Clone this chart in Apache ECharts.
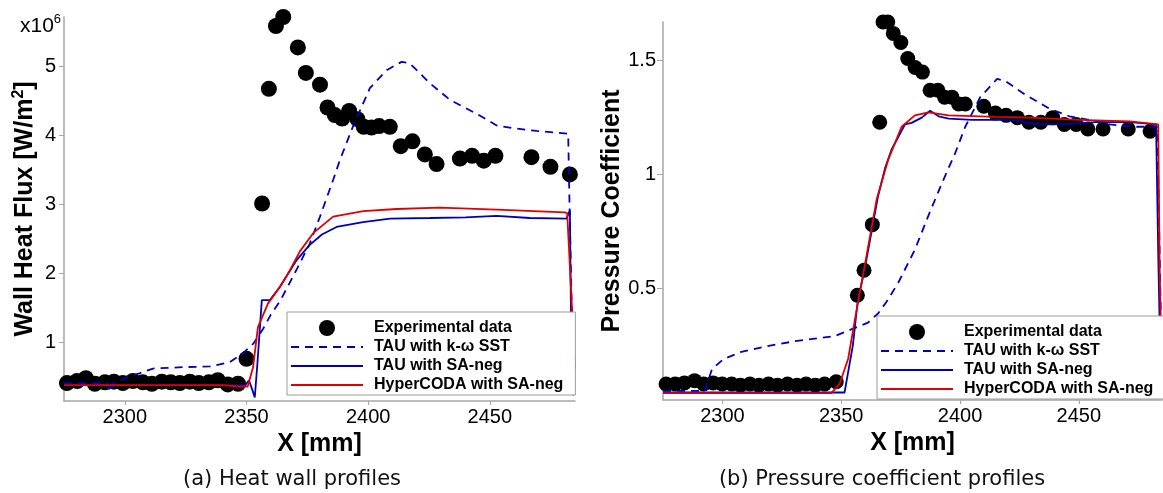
<!DOCTYPE html>
<html>
<head>
<meta charset="utf-8">
<script src="https://cdn.jsdelivr.net/npm/echarts@6/dist/echarts.min.js"></script>
<style>
html,body{margin:0;padding:0;background:#fff;}
#c{width:1163px;height:493px;}
</style>
</head>
<body>
<div id="c"></div>
<script>
// ---------- Data (a): wall heat flux, units of 1e6 W/m^2 ----------
const heatExpX = [2276.2,2280.4,2284.0,2287.7,2291.8,2295.5,2299.2,2303.3,2307.4,2311.1,2315.2,2318.9,2322.6,2326.7,2330.4,2334.5,2338.2,2342.3,2346.5,
  2350.0,2356.4,2359.2,2362.1,2365.1,2371.1,2374.4,2380.2,2383.3,2386.3,2389.3,2392.2,2395.6,2398.2,2401.4,2404.5,2408.9,
  2413.4,2418.2,2423.3,2428.1,2437.7,2442.7,2447.5,2452.3,2467.1,2474.9,2482.9];
const heatExpY = [0.41,0.44,0.48,0.40,0.42,0.43,0.41,0.44,0.42,0.40,0.43,0.42,0.41,0.43,0.41,0.42,0.45,0.39,0.40,
  0.76,3.01,4.67,5.58,5.71,5.27,4.90,4.73,4.40,4.29,4.24,4.35,4.23,4.12,4.11,4.13,4.12,
  3.84,3.91,3.72,3.58,3.66,3.70,3.63,3.70,3.68,3.54,3.43];
const heatSstX = [2275,2292.7,2294,2295.5,2303,2306,2311.6,2324,2335,2343,2348.5,2352.8,2356.9,2360,2364,2371,2376,2380.2,2385.6,2388.4,2393.7,2400.7,2407.6,2413.7,2417.1,2425.4,2433.6,2444.5,2452.8,2459.4,2469.2,2482.2,2482.8,2484.2];
const heatSstY = [0.41,0.41,0.28,0.42,0.52,0.55,0.62,0.64,0.65,0.71,0.84,0.98,1.20,1.40,1.61,2.08,2.43,2.82,3.35,3.64,4.12,4.68,4.94,5.06,5.04,4.75,4.51,4.31,4.14,4.10,4.06,4.02,2.90,0.60];
const heatSaX = [2275,2349.5,2351,2352.5,2353.4,2354.5,2356.3,2359.6,2363.7,2370.6,2376,2381,2387,2397.9,2409,2425.4,2440,2452.8,2466.4,2481.5,2482.9,2483.6,2484.5];
const heatSaY = [0.38,0.38,0.45,0.30,0.20,0.70,1.61,1.61,1.80,2.19,2.41,2.56,2.67,2.74,2.79,2.80,2.81,2.83,2.80,2.79,2.91,0.50,0.23];
const heatHcX = [2275,2340,2347,2350.5,2352.7,2354.7,2358.8,2363.7,2367.8,2372,2377.4,2385.6,2398,2411.7,2429.5,2452.8,2480.8,2481.8,2485];
const heatHcY = [0.38,0.38,0.36,0.36,0.64,1.22,1.56,1.80,2.04,2.32,2.58,2.82,2.90,2.93,2.95,2.92,2.88,2.87,0.62];

// ---------- Data (b): pressure coefficient ----------
const cpExpX = [2276.3,2280.1,2284.0,2288.3,2292.1,2296.1,2299.9,2303.9,2307.6,2311.6,2315.4,2319.4,2323.2,2327.4,2331.4,2335.2,2339.1,2343.0,2347.9,
  2356.8,2359.6,2363.1,2366.2,2367.6,2369.6,2371.9,2375.1,2378.0,2381.1,2384.2,2387.4,2390.7,2393.5,2396.6,2399.4,2402.2,2410.0,2414.9,2419.4,2424.1,2429.0,2434.0,2439.0,2443.9,2448.9,2453.8,2460.2,2470.8,2480.0];
const cpExpY = [0.08,0.08,0.085,0.095,0.08,0.085,0.08,0.08,0.075,0.08,0.075,0.08,0.075,0.08,0.075,0.08,0.075,0.08,0.09,
  0.47,0.58,0.78,1.23,1.67,1.67,1.62,1.58,1.51,1.47,1.45,1.37,1.37,1.34,1.34,1.31,1.31,1.30,1.27,1.26,1.25,1.23,1.23,1.25,1.22,1.22,1.20,1.20,1.20,1.19];
const cpSstX = [2275,2292.6,2295.6,2300.5,2307.6,2319,2331.6,2347.1,2354.2,2361.3,2365.5,2369,2374,2381,2386.7,2392.3,2398,2402.2,2408.5,2415.6,2419.2,2427.6,2437.5,2446,2454.5,2462.9,2474.2,2483,2485];
const cpSstY = [0.05,0.05,0.145,0.19,0.22,0.247,0.27,0.29,0.32,0.35,0.39,0.44,0.525,0.67,0.82,0.96,1.095,1.21,1.34,1.42,1.41,1.35,1.29,1.256,1.24,1.22,1.21,1.21,0.10];
const cpSaX = [2275,2351.4,2354.9,2357,2359.8,2362.7,2365.5,2368.5,2371.2,2376.8,2379.6,2383.9,2387.4,2391,2395.2,2405.1,2422,2433.3,2443.1,2457.3,2471.4,2482.5,2483.5,2484.5];
const cpSaY = [0.043,0.043,0.25,0.45,0.58,0.745,0.905,1.03,1.11,1.22,1.227,1.25,1.28,1.256,1.246,1.24,1.24,1.22,1.22,1.23,1.23,1.22,0.60,0.10];
const cpHcX = [2275,2345.8,2349.3,2352.9,2355.7,2359.9,2364.9,2369.8,2375.4,2381,2386.7,2395.2,2414.9,2429,2450.2,2471.4,2483.4,2484,2485];
const cpHcY = [0.04,0.04,0.08,0.19,0.36,0.60,0.89,1.066,1.21,1.26,1.273,1.26,1.253,1.25,1.24,1.234,1.22,0.60,0.10];

const xTicks = [2300,2350,2400,2450];
const heatTicks = [1,2,3,4,5];
const cpTicks = [0.5,1,1.5];
const seriesNames = ['Experimental data','TAU with k-\u03C9 SST','TAU with SA-neg','HyperCODA with SA-neg'];

const zip = (xs, ys) => xs.map((x, i) => [x, ys[i]]);

const BLUE = '#0000c0', BLUE2 = '#0000b4', RED = '#e00000', AX = '#a6a6a6';
const FF = 'Liberation Sans, Arial, sans-serif';
const plain = v => String(v);

function xAxisDef(gi) {
  return {
    type: 'value', gridIndex: gi, min: 2275, max: 2485,
    axisLine: { onZero: false, lineStyle: { color: AX, width: 1.5 } },
    axisTick: { customValues: xTicks, length: 4, lineStyle: { color: AX } },
    axisLabel: { customValues: xTicks, formatter: plain, color: '#000', fontSize: 20, fontFamily: FF, margin: 6 },
    splitLine: { show: false },
    name: 'X [mm]', nameLocation: 'middle', nameGap: 25,
    nameTextStyle: { fontWeight: 'bold', fontSize: 25, color: '#000', fontFamily: FF }
  };
}

function lineSeries(name, data, gi, color, dashed, width) {
  return {
    name, type: 'line', xAxisIndex: gi, yAxisIndex: gi, data,
    symbol: 'none', smooth: false, clip: false, animation: false,
    lineStyle: { color, width: width, type: dashed ? [8, 6] : 'solid' },
    itemStyle: { color }
  };
}

const hiddenSym = { opacity: 0, color: 'rgba(0,0,0,0)', borderWidth: 0 };

function legendDef(left, top) {
  return {
    orient: 'vertical', left, top,
    data: [
      { name: seriesNames[0], icon: 'circle', itemStyle: { color: '#000', opacity: 1 } },
      { name: seriesNames[1], itemStyle: hiddenSym },
      { name: seriesNames[2], itemStyle: hiddenSym },
      { name: seriesNames[3], itemStyle: hiddenSym }
    ],
    itemWidth: 72, itemHeight: 16, itemGap: 3,
    padding: [8, 12, 2, 3],
    borderColor: '#9a9a9a', borderWidth: 1, backgroundColor: '#fff',
    textStyle: { fontWeight: 'bold', fontSize: 16, fontFamily: FF, color: '#000', padding: [0, 0, 0, 6], lineHeight: 16 },
    selectedMode: false
  };
}

const option = {
  animation: false,
  backgroundColor: '#fff',
  grid: [
    { left: 64, top: 17, width: 511, height: 384 },
    { left: 663, top: 22, width: 499, height: 378 }
  ],
  xAxis: [xAxisDef(0), xAxisDef(1)],
  yAxis: [
    {
      type: 'value', gridIndex: 0, min: 0.15, max: 5.71,
      axisLine: { show: true, lineStyle: { color: AX, width: 1.5 } },
      axisTick: { show: true, customValues: heatTicks, length: 5, lineStyle: { color: AX } },
      axisLabel: { customValues: heatTicks, formatter: plain, color: '#000', fontSize: 20, fontFamily: FF, margin: 8 },
      splitLine: { show: false },
      name: '{t|Wall Heat Flux [W/m}{s|2}{t|]}', nameLocation: 'middle', nameGap: 25,
      nameTextStyle: {
        rich: {
          t: { fontWeight: 'bold', fontSize: 25, color: '#000', fontFamily: FF, lineHeight: 28 },
          s: { fontWeight: 'bold', fontSize: 16, color: '#000', fontFamily: FF, verticalAlign: 'top', lineHeight: 14 }
        }
      }
    },
    {
      type: 'value', gridIndex: 1, min: 0.01, max: 1.67,
      axisLine: { show: true, lineStyle: { color: AX, width: 1.5 } },
      axisTick: { show: true, customValues: cpTicks, length: 6, lineStyle: { color: AX } },
      axisLabel: { customValues: cpTicks, formatter: plain, color: '#000', fontSize: 20, fontFamily: FF, margin: 7 },
      splitLine: { show: false },
      name: 'Pressure Coefficient', nameLocation: 'middle', nameGap: 38,
      nameTextStyle: { fontWeight: 'bold', fontSize: 25, color: '#000', fontFamily: FF }
    }
  ],
  legend: [legendDef(287, 312), legendDef(877, 316)],
  graphic: [
    {
      type: 'text', left: 20, top: 13,
      style: {
        text: '{a|x10}{b|6}',
        rich: {
          a: { fontSize: 21, fontFamily: FF, fill: '#000', lineHeight: 26 },
          b: { fontSize: 13, fontFamily: FF, fill: '#000', verticalAlign: 'top', lineHeight: 14 }
        }
      }
    },
    {
      type: 'text', x: 292, y: 480,
      style: { text: '(a) Heat wall profiles', fontSize: 21, fontFamily: 'DejaVu Sans', fill: '#111', align: 'center', verticalAlign: 'middle' }
    },
    {
      type: 'text', x: 882, y: 480,
      style: { text: '(b) Pressure coefficient profiles', fontSize: 21, fontFamily: 'DejaVu Sans', fill: '#111', align: 'center', verticalAlign: 'middle' }
    }
  ],
  series: [
    { name: seriesNames[0], type: 'scatter', xAxisIndex: 0, yAxisIndex: 0, data: zip(heatExpX, heatExpY), symbol: 'circle', symbolSize: 16, clip: false, itemStyle: { color: '#000', opacity: 1 } },
    lineSeries(seriesNames[1], zip(heatSstX, heatSstY), 0, BLUE, true, 1.8),
    lineSeries(seriesNames[2], zip(heatSaX, heatSaY), 0, BLUE2, false, 1.8),
    lineSeries(seriesNames[3], zip(heatHcX, heatHcY), 0, RED, false, 1.8),
    { name: seriesNames[0], type: 'scatter', xAxisIndex: 1, yAxisIndex: 1, data: zip(cpExpX, cpExpY), symbol: 'circle', symbolSize: 15, clip: false, itemStyle: { color: '#000', opacity: 1 } },
    lineSeries(seriesNames[1], zip(cpSstX, cpSstY), 1, BLUE, true, 1.8),
    lineSeries(seriesNames[2], zip(cpSaX, cpSaY), 1, BLUE2, false, 1.8),
    lineSeries(seriesNames[3], zip(cpHcX, cpHcY), 1, RED, false, 1.8)
  ]
};

const chart = echarts.init(document.getElementById('c'), null, { renderer: 'canvas' });
chart.setOption(option);
</script>
</body>
</html>
